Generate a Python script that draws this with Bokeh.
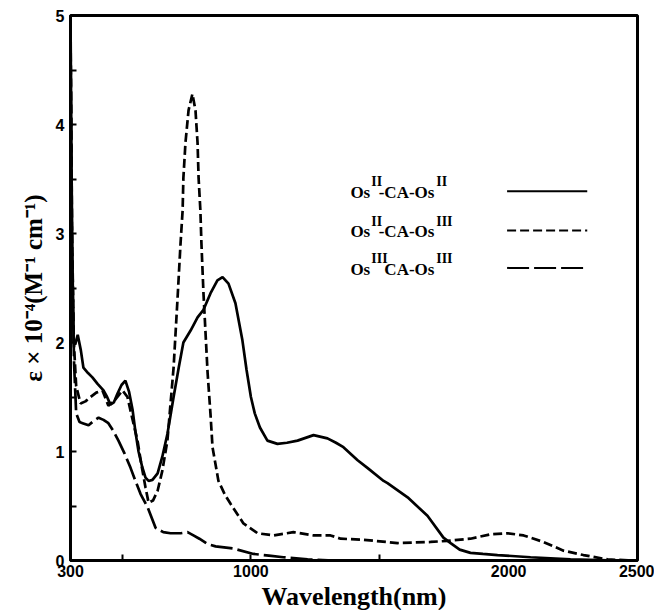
from bokeh.plotting import figure
from bokeh.models import FixedTicker, Label, Title, Range1d
from bokeh.embed import file_html
from bokeh.resources import INLINE

# ---- data ----
# Os(II)-CA-Os(II)  (solid)
wl_22 = [300, 306, 312, 318, 328, 340, 350, 368, 385, 405, 428, 442, 455, 468, 482, 498, 513, 527,
         541, 552, 564, 578, 591, 603, 618, 638, 656, 676, 700, 720, 738, 766, 793, 816, 843, 870,
         890, 913, 940, 967, 983, 1000, 1015, 1035, 1064, 1103, 1140, 1181, 1243, 1297, 1330, 1359,
         1414, 1452, 1515, 1530, 1608, 1685, 1747, 1775, 1810, 1852, 1900, 1957, 2085, 2240, 2422, 2500]
eps_22 = [5.0, 3.0, 2.0, 1.98, 2.07, 1.93, 1.77, 1.72, 1.68, 1.62, 1.56, 1.50, 1.43, 1.45, 1.53, 1.61,
          1.65, 1.55, 1.38, 1.18, 1.00, 0.86, 0.76, 0.73, 0.74, 0.80, 0.95, 1.16, 1.50, 1.77, 2.00,
          2.11, 2.23, 2.30, 2.45, 2.57, 2.60, 2.54, 2.36, 2.02, 1.75, 1.50, 1.35, 1.22, 1.10, 1.07,
          1.08, 1.10, 1.15, 1.12, 1.08, 1.04, 0.92, 0.85, 0.73, 0.71, 0.58, 0.41, 0.21, 0.16, 0.10,
          0.07, 0.06, 0.05, 0.03, 0.01, 0.0, 0.0]

# Os(II)-CA-Os(III)  (short dash)
wl_23 = [300, 306, 313, 322, 339, 358, 378, 400, 424, 447, 475, 502, 521, 540, 560, 575, 591, 603,
         620, 638, 656, 676, 700, 715, 727, 735, 738, 746, 758, 773, 785, 793, 797, 804, 808, 816,
         832, 843, 851, 874, 900, 921, 971, 1026, 1088, 1165, 1243, 1309, 1348, 1437, 1569, 1697,
         1763, 1852, 1930, 1996, 2058, 2135, 2213, 2290, 2384, 2473, 2500]
eps_23 = [4.9, 3.0, 2.0, 1.60, 1.44, 1.46, 1.50, 1.54, 1.56, 1.42, 1.48, 1.56, 1.50, 1.30, 1.10, 0.88,
          0.67, 0.53, 0.55, 0.64, 0.82, 1.10, 1.77, 2.39, 2.91, 3.21, 3.51, 3.83, 4.13, 4.28, 4.13,
          3.83, 3.51, 3.21, 2.91, 2.45, 1.72, 1.35, 1.04, 0.73, 0.60, 0.52, 0.34, 0.25, 0.23, 0.26,
          0.23, 0.23, 0.20, 0.19, 0.16, 0.17, 0.18, 0.20, 0.24, 0.25, 0.23, 0.17, 0.09, 0.05, 0.01,
          0.0, 0.0]

# Os(III)-CA-Os(III)  (long dash)
wl_33 = [300, 306, 314, 322, 335, 347, 370, 390, 409, 428, 447, 466, 486, 510, 533, 552, 572, 599,
         630, 660, 688, 727, 754, 777, 800, 832, 863, 932, 1010, 1070, 1126, 1220, 1320, 1400]
eps_33 = [4.8, 2.8, 1.8, 1.35, 1.27, 1.26, 1.24, 1.28, 1.31, 1.29, 1.26, 1.19, 1.10, 0.98, 0.85, 0.73,
          0.61, 0.49, 0.30, 0.26, 0.25, 0.25, 0.26, 0.23, 0.20, 0.15, 0.13, 0.11, 0.06, 0.045, 0.03,
          0.01, 0.0, 0.0]

x_tick_values = [300, 1000, 2000, 2500]
x_tick_labels = ["300", "1000", "2000", "2500"]
x_minor_ticks = [500, 1000, 1500]
y_tick_values = [0, 1, 2, 3, 4, 5]
y_minor_ticks = [0.5, 1.5, 2.5, 3.5, 4.5]

legend_rows = [("II", "-CA-Os", "II"), ("II", "-CA-Os", "III"), ("III", "CA-Os", "III")]
legend_dash = ["solid", "9 4", "22 5"]

# ---- figure ----
p = figure(width=654, height=610, x_range=Range1d(300, 2500), y_range=Range1d(0, 5),
           output_backend="svg", toolbar_location=None,
           min_border_left=70, min_border_top=15, min_border_right=17, min_border_bottom=50)
p.grid.visible = False
p.outline_line_color = "black"
p.outline_line_width = 3
p.background_fill_color = "white"
p.border_fill_color = "white"

serif = "Liberation Serif"
sans = "Liberation Sans"

# x axis
p.xaxis.ticker = FixedTicker(ticks=x_tick_values, minor_ticks=x_minor_ticks)
p.xaxis.major_label_overrides = {v: l for v, l in zip(x_tick_values, x_tick_labels)}
p.xaxis.major_tick_in = 0
p.xaxis.major_tick_out = 0
p.xaxis.minor_tick_in = 6
p.xaxis.minor_tick_out = 0
p.xaxis.minor_tick_line_width = 2
p.xaxis.axis_line_width = 3
p.xaxis.major_label_standoff = 4
p.xaxis.major_label_text_font = sans
p.xaxis.major_label_text_font_style = "bold"
p.xaxis.major_label_text_font_size = "16px"
p.xaxis.major_label_text_color = "black"

# y axis
p.yaxis.ticker = FixedTicker(ticks=y_tick_values, minor_ticks=y_minor_ticks)
p.yaxis.major_tick_in = 6
p.yaxis.major_tick_out = 0
p.yaxis.minor_tick_in = 6
p.yaxis.minor_tick_out = 0
p.yaxis.major_tick_line_width = 2
p.yaxis.minor_tick_line_width = 2
p.yaxis.axis_line_width = 3
p.yaxis.major_label_standoff = 6
p.yaxis.major_label_text_font = sans
p.yaxis.major_label_text_font_style = "bold"
p.yaxis.major_label_text_font_size = "16px"
p.yaxis.major_label_text_color = "black"
p.yaxis.axis_label = "ε × 10⁻⁴(M⁻¹ cm⁻¹)"
p.yaxis.axis_label_text_font = serif
p.yaxis.axis_label_text_font_style = "bold"
p.yaxis.axis_label_text_font_size = "25px"
p.yaxis.axis_label_standoff = 6
p.yaxis.axis_label_text_color = "black"

p.add_layout(Title(text="Wavelength(nm)", align="center", text_font=serif, text_font_style="bold",
                   text_font_size="26px", text_color="black", standoff=0, offset=-22), "below")

# curves
p.line(wl_22, eps_22, line_color="black", line_width=2.7)
p.line(wl_23, eps_23, line_color="black", line_width=2.7, line_dash="9 4")
p.line(wl_33, eps_33, line_color="black", line_width=2.7, line_dash="22 5")

# legend (manual, with superscripts)
row_base = [3.376, 3.016, 2.672]
sup_raise = 0.098
x_os = 1386
x_sup1 = 1467
x_mid_end = 1712
x_sup2 = 1719
key_x0, key_x1 = 1994, 2305
key_dy = 0.012
for (s1, mid, s2), yb, dash in zip(legend_rows, row_base, legend_dash):
    common = dict(text_font=serif, text_font_style="bold", text_color="black", text_baseline="alphabetic")
    p.add_layout(Label(x=x_os, y=yb, text="Os", text_align="left", text_font_size="17px", **common))
    p.add_layout(Label(x=x_sup1, y=yb + sup_raise, text=s1, text_align="left", text_font_size="14px", **common))
    p.add_layout(Label(x=x_mid_end, y=yb, text=mid, text_align="right", text_font_size="17px", **common))
    p.add_layout(Label(x=x_sup2, y=yb + sup_raise, text=s2, text_align="left", text_font_size="14px", **common))
    p.segment(x0=[key_x0], y0=[yb + key_dy], x1=[key_x1], y1=[yb + key_dy],
              line_color="black", line_width=2, line_dash=dash)

open("out.html", "w").write(file_html(p, INLINE))
